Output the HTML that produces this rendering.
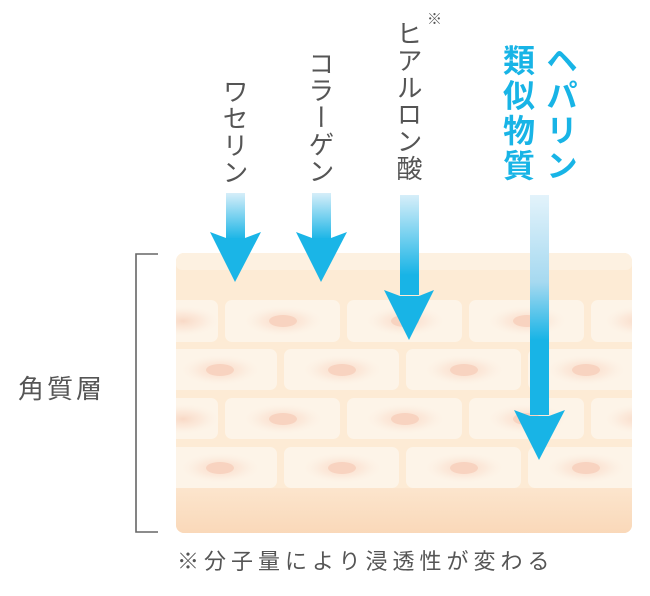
<!DOCTYPE html>
<html><head><meta charset="utf-8"><style>
html,body{margin:0;padding:0;background:#fff;}
body{width:650px;height:596px;position:relative;overflow:hidden;font-family:"Liberation Sans","Noto Sans CJK JP",sans-serif;}
.v{position:absolute;writing-mode:vertical-rl;white-space:nowrap;color:#555;font-size:26px;line-height:1;letter-spacing:1px;}
.b{color:#18b4e6;font-weight:bold;font-size:32px;letter-spacing:3px;}
</style></head><body>
<svg width="650" height="596" style="position:absolute;left:0;top:0">
<defs>
<linearGradient id="base" x1="0" y1="0" x2="0" y2="1"><stop offset="0" stop-color="#fce5cd"/><stop offset="1" stop-color="#f9d7b7"/></linearGradient>
<radialGradient id="halo"><stop offset="0" stop-color="#f8d6c2" stop-opacity="0.9"/><stop offset="0.5" stop-color="#fbe3d3" stop-opacity="0.6"/><stop offset="1" stop-color="#fdf4e8" stop-opacity="0"/></radialGradient>
<linearGradient id="g1" x1="0" y1="193" x2="0" y2="240" gradientUnits="userSpaceOnUse"><stop offset="0" stop-color="#d6eef9"/><stop offset="1" stop-color="#18b4e6"/></linearGradient>
<linearGradient id="g3" x1="0" y1="195" x2="0" y2="275" gradientUnits="userSpaceOnUse"><stop offset="0" stop-color="#d6eef9"/><stop offset="1" stop-color="#18b4e6"/></linearGradient>
<linearGradient id="g4" x1="0" y1="195" x2="0" y2="340" gradientUnits="userSpaceOnUse"><stop offset="0" stop-color="#e3f3fb"/><stop offset="0.6" stop-color="#a6d9f0"/><stop offset="1" stop-color="#18b4e6"/></linearGradient>
<clipPath id="skin"><rect x="176" y="253" width="456" height="280" rx="8"/></clipPath>
</defs>
<g clip-path="url(#skin)">
<rect x="176" y="253" width="456" height="280" fill="#fdebd5"/>
<rect x="176" y="253" width="456" height="17" rx="6" fill="#fdf1e1"/>
<rect x="176" y="488" width="456" height="50" fill="url(#base)"/>
<g fill="#fdf4e8">
<rect x="140" y="300" width="78" height="42" rx="7"/><rect x="225" y="300" width="115" height="42" rx="7"/><rect x="347" y="300" width="115" height="42" rx="7"/><rect x="469" y="300" width="115" height="42" rx="7"/><rect x="591" y="300" width="60" height="42" rx="7"/>
<rect x="150" y="349" width="127" height="41" rx="7"/><rect x="284" y="349" width="115" height="41" rx="7"/><rect x="406" y="349" width="115" height="41" rx="7"/><rect x="528" y="349" width="115" height="41" rx="7"/>
<rect x="140" y="398" width="78" height="41" rx="7"/><rect x="225" y="398" width="115" height="41" rx="7"/><rect x="347" y="398" width="115" height="41" rx="7"/><rect x="469" y="398" width="115" height="41" rx="7"/><rect x="591" y="398" width="60" height="41" rx="7"/>
<rect x="150" y="447" width="127" height="41" rx="7"/><rect x="284" y="447" width="115" height="41" rx="7"/><rect x="406" y="447" width="115" height="41" rx="7"/><rect x="528" y="447" width="115" height="41" rx="7"/>
</g>
<g fill="url(#halo)">
<ellipse cx="183" cy="321" rx="38" ry="16"/><ellipse cx="283" cy="321" rx="42" ry="16"/><ellipse cx="405" cy="321" rx="42" ry="16"/><ellipse cx="527" cy="321" rx="42" ry="16"/><ellipse cx="640" cy="321" rx="38" ry="16"/>
<ellipse cx="220" cy="370" rx="42" ry="16"/><ellipse cx="342" cy="370" rx="42" ry="16"/><ellipse cx="464" cy="370" rx="42" ry="16"/><ellipse cx="586" cy="370" rx="42" ry="16"/>
<ellipse cx="183" cy="419" rx="38" ry="16"/><ellipse cx="283" cy="419" rx="42" ry="16"/><ellipse cx="405" cy="419" rx="42" ry="16"/><ellipse cx="527" cy="419" rx="42" ry="16"/><ellipse cx="640" cy="419" rx="38" ry="16"/>
<ellipse cx="220" cy="468" rx="42" ry="16"/><ellipse cx="342" cy="468" rx="42" ry="16"/><ellipse cx="464" cy="468" rx="42" ry="16"/><ellipse cx="586" cy="468" rx="42" ry="16"/>
</g>
<g fill="#f8d3c0">
<ellipse cx="283" cy="321" rx="14" ry="6"/><ellipse cx="405" cy="321" rx="14" ry="6"/><ellipse cx="527" cy="321" rx="14" ry="6"/>
<ellipse cx="220" cy="370" rx="14" ry="6"/><ellipse cx="342" cy="370" rx="14" ry="6"/><ellipse cx="464" cy="370" rx="14" ry="6"/><ellipse cx="586" cy="370" rx="14" ry="6"/>
<ellipse cx="283" cy="419" rx="14" ry="6"/><ellipse cx="405" cy="419" rx="14" ry="6"/><ellipse cx="527" cy="419" rx="14" ry="6"/>
<ellipse cx="220" cy="468" rx="14" ry="6"/><ellipse cx="342" cy="468" rx="14" ry="6"/><ellipse cx="464" cy="468" rx="14" ry="6"/><ellipse cx="586" cy="468" rx="14" ry="6"/>
</g>
</g>
<path d="M158 254 H136 V532 H158" fill="none" stroke="#666" stroke-width="1.6"/>
<rect x="226" y="193" width="19" height="45" fill="url(#g1)"/>
<path d="M210 232 L226 238 L245 238 L261 232 L235 282 Z" fill="#1ab5e7"/>
<rect x="312" y="193" width="19" height="45" fill="url(#g1)"/>
<path d="M296 232 L312 238 L331 238 L347 232 L321 282 Z" fill="#1ab5e7"/>
<rect x="400" y="195" width="19" height="100" fill="url(#g3)"/>
<path d="M384 290 L400 296 L419 296 L434 290 L409 340 Z" fill="#18b4e6"/>
<rect x="530" y="195" width="19" height="220" fill="url(#g4)"/>
<path d="M514 410 L530 416 L549 416 L565 410 L539 460 Z" fill="#18b4e6"/>
</svg>
<div class="v" style="left:221px;top:78px;">ワセリン</div>
<div class="v" style="left:307px;top:50px;">コラーゲン</div>
<div class="v" style="left:395px;top:20px;">ヒアルロン酸</div>
<div style="position:absolute;left:427px;top:12px;font-size:15px;color:#555;line-height:1;">※</div>
<div class="v b" style="left:501px;top:44px;">類似物質</div>
<div class="v b" style="left:544px;top:44px;">ヘパリン</div>
<div style="position:absolute;left:18px;top:376px;font-size:26px;color:#555;letter-spacing:3px;line-height:1;">角質層</div>
<div style="position:absolute;left:177px;top:551px;font-size:22px;color:#555;letter-spacing:5px;line-height:1;white-space:nowrap;">※分子量により浸透性が変わる</div>
</body></html>
